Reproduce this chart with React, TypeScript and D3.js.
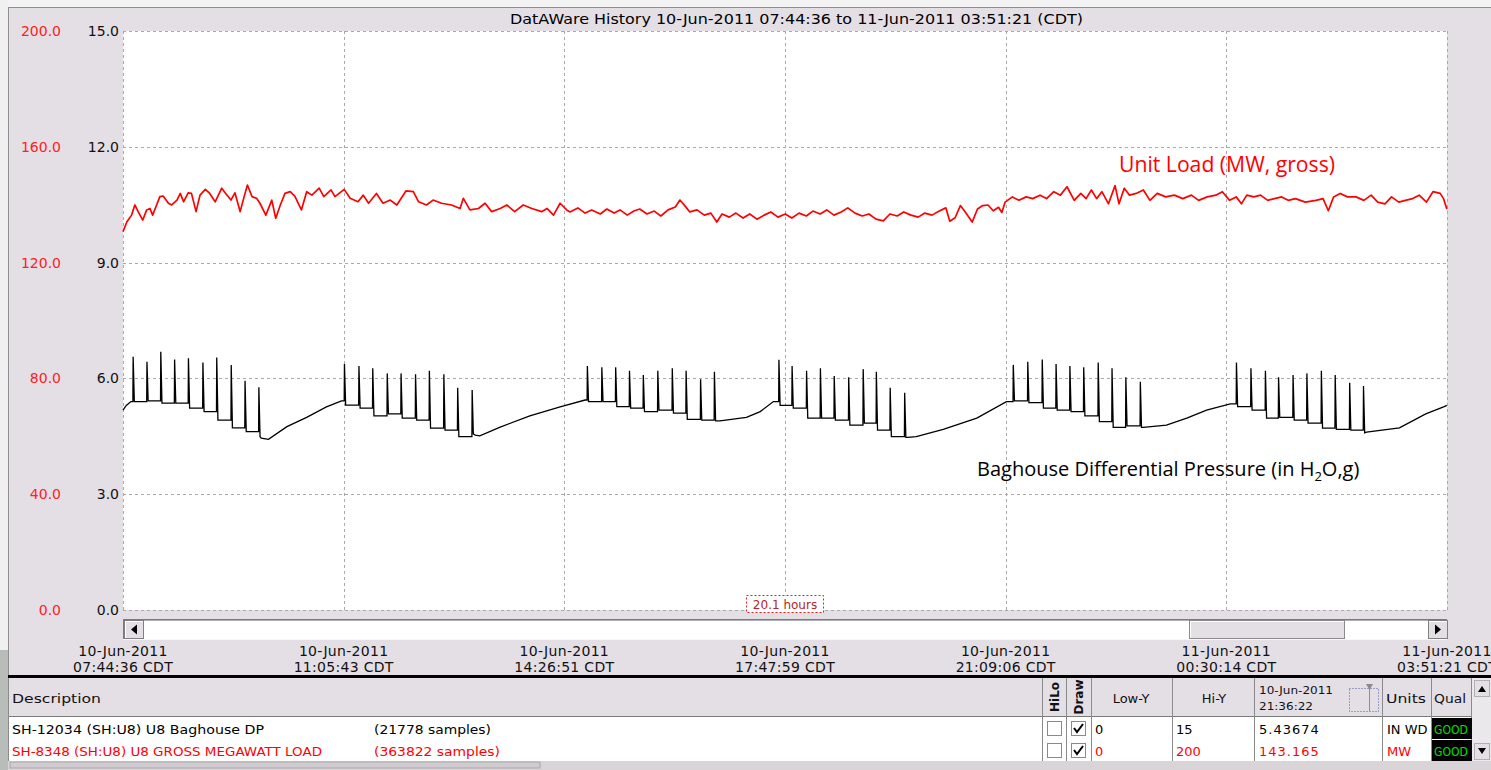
import React from 'react';
import * as d3 from 'd3';

const W = 1491;
const H = 770;

const TITLE = 'DatAWare History 10-Jun-2011 07:44:36 to 11-Jun-2011 03:51:21 (CDT)';
const START_LABEL = '10-Jun-2011 07:44:36';
const END_LABEL = '11-Jun-2011 03:51:21';
const xTickLabels = [
  '10-Jun-2011 07:44:36',
  '10-Jun-2011 11:05:43',
  '10-Jun-2011 14:26:51',
  '10-Jun-2011 17:47:59',
  '10-Jun-2011 21:09:06',
  '11-Jun-2011 00:30:14',
  '11-Jun-2011 03:51:21',
];
const dpTicks = [0, 3, 6, 9, 12, 15];
const mwTicks = [0, 40, 80, 120, 160, 200];

// Unit load (MW) — hours since start / MW
const mwHours = [
  0.0, 0.06, 0.13, 0.18, 0.23, 0.3, 0.36, 0.41, 0.45, 0.5, 0.56, 0.61, 0.69, 0.74, 0.82, 0.87, 0.92, 0.99, 1.04, 1.11,
  1.17, 1.25, 1.31, 1.4, 1.5, 1.56, 1.64, 1.7, 1.78, 1.84, 1.89, 1.96, 2.03, 2.08, 2.17, 2.26, 2.32, 2.39, 2.46, 2.54,
  2.61, 2.71, 2.79, 2.87, 2.98, 3.05, 3.16, 3.22, 3.36, 3.45, 3.57, 3.65, 3.73, 3.85, 3.95, 4.06, 4.16, 4.3, 4.41, 4.49,
  4.61, 4.71, 4.84, 4.99, 5.12, 5.17, 5.27, 5.4, 5.5, 5.6, 5.73, 5.83, 5.95, 6.08, 6.21, 6.36, 6.44, 6.54, 6.64, 6.74,
  6.79, 6.91, 7.02, 7.12, 7.25, 7.35, 7.46, 7.55, 7.66, 7.76, 7.85, 7.96, 8.07, 8.17, 8.28, 8.39, 8.46, 8.54, 8.61, 8.72,
  8.83, 8.93, 9.02, 9.1, 9.21, 9.31, 9.42, 9.52, 9.63, 9.74, 9.84, 9.95, 10.06, 10.16, 10.27, 10.38, 10.48, 10.59, 10.69, 10.8,
  10.91, 11.01, 11.12, 11.23, 11.33, 11.44, 11.55, 11.65, 11.76, 11.86, 11.97, 12.08, 12.18, 12.29, 12.4, 12.5,
  12.56, 12.64, 12.72, 12.8, 12.9, 12.98, 13.06, 13.14, 13.22, 13.3, 13.35, 13.4, 13.51, 13.61, 13.72, 13.82, 13.93, 14.03, 14.14, 14.24,
  14.34, 14.45, 14.55, 14.63, 14.71, 14.79, 14.87, 14.97, 15.07, 15.13, 15.21, 15.29, 15.39, 15.5, 15.6, 15.71, 15.84, 15.97, 16.1, 16.23,
  16.34, 16.47, 16.6, 16.7, 16.81, 16.91, 16.99, 17.07, 17.18, 17.28, 17.39, 17.49, 17.6, 17.7, 17.81, 17.96, 18.12, 18.23, 18.31, 18.39,
  18.49, 18.6, 18.73, 18.85, 18.96, 19.06, 19.17, 19.27, 19.38, 19.48, 19.59, 19.69, 19.8, 19.9, 20.01, 20.06, 20.11,
];
const mwValues = [
  130.7, 134.1, 136.4, 139.9, 137.6, 134.7, 138.2, 138.7, 136.4, 139.3, 142.8, 143.0, 140.5, 139.9, 141.6, 143.9, 141.0, 144.1, 143.9, 137.6,
  143.3, 145.3, 144.1, 141.0, 145.7, 143.9, 141.6, 144.1, 137.6, 142.8, 146.8, 142.8, 142.2, 140.5, 136.4, 141.6, 135.3, 139.9, 143.9, 144.5,
  143.0, 138.2, 144.5, 143.3, 145.7, 142.8, 145.1, 142.8, 145.3, 142.2, 141.0, 143.3, 140.5, 143.9, 140.5, 141.6, 139.9, 144.8, 144.5, 141.0,
  139.9, 141.6, 140.5, 139.9, 138.7, 142.2, 138.2, 138.7, 140.5, 137.6, 138.7, 139.9, 137.6, 139.9, 138.7, 137.6, 138.7, 136.4, 140.5, 138.2,
  137.5, 138.9, 137.1, 138.2, 136.8, 138.5, 137.1, 138.2, 136.4, 137.8, 138.5, 136.8, 137.8, 136.1, 138.2, 139.2, 141.6, 139.5, 137.5, 138.2,
  136.4, 137.1, 134.0, 136.8, 135.7, 137.1, 135.4, 136.8, 135.0, 136.4, 137.5, 135.7, 136.8, 135.4, 137.1, 136.1, 137.8, 136.8, 138.2, 136.4,
  137.5, 138.9, 137.1, 136.1, 136.8, 135.0, 134.4, 136.8, 136.1, 137.5, 136.4, 135.7, 137.1, 136.4, 137.8, 138.9,
  134.3, 135.5, 139.7, 137.3, 134.0, 138.5, 139.7, 139.9, 137.9, 139.1, 137.3, 140.9, 142.7, 141.5, 142.7, 142.1, 143.3, 142.1, 144.5, 143.3,
  146.2, 141.5, 143.9, 142.1, 145.1, 142.1, 144.5, 140.3, 146.6, 140.3, 145.7, 143.3, 143.9, 145.1, 141.5, 143.9, 142.7, 143.3, 142.1, 143.3,
  141.5, 142.7, 143.3, 144.5, 141.5, 142.7, 140.3, 143.3, 142.7, 143.3, 141.5, 142.1, 142.7, 141.5, 142.1, 140.9, 141.5, 142.1, 137.9, 142.7,
  143.9, 142.7, 142.7, 141.5, 143.3, 140.9, 140.3, 142.7, 140.9, 141.5, 142.1, 143.3, 140.9, 144.5, 143.9, 142.1, 138.5,
];

// Baghouse DP (in H2O) — slow build-up ramps (hours / value)
const rampHours = [
  0.0, 0.05, 0.12,
  2.1, 2.21, 2.49, 2.79, 3.09, 3.32,
  5.35, 5.42, 5.73, 6.18, 6.64, 7.02,
  9.07, 9.47, 9.68, 9.88,
  11.92, 12.05, 12.46, 12.97, 13.42,
  15.5, 15.85, 16.16, 16.46, 16.82,
  18.89, 19.39, 19.79, 20.07, 20.11,
];
const rampValues = [
  5.18, 5.3, 5.4,
  4.45, 4.42, 4.75, 4.99, 5.26, 5.42,
  4.53, 4.51, 4.74, 5.03, 5.26, 5.44,
  4.9, 4.99, 5.14, 5.4,
  4.47, 4.49, 4.68, 4.97, 5.4,
  4.73, 4.79, 4.97, 5.18, 5.34,
  4.61, 4.72, 5.08, 5.27, 5.3,
];
// Cleaning pulses: time, peak value, floor after pulse
const pulseHours = [
  0.15, 0.36, 0.57, 0.78, 0.99, 1.21, 1.42, 1.64, 1.85, 2.06,
  3.36, 3.58, 3.79, 4.01, 4.22, 4.44, 4.65, 4.87, 5.08, 5.3,
  7.05, 7.27, 7.48, 7.69, 7.9, 8.12, 8.34, 8.55, 8.77, 8.98,
  9.96, 10.16, 10.38, 10.59, 10.8, 11.02, 11.24, 11.44, 11.65, 11.87,
  13.52, 13.74, 13.96, 14.17, 14.38, 14.59, 14.81, 15.02, 15.23, 15.45,
  16.91, 17.13, 17.35, 17.55, 17.77, 17.98, 18.2, 18.41, 18.63, 18.84,
];
const pulsePeaks = [
  6.56, 6.43, 6.69, 6.49, 6.52, 6.41, 6.54, 6.35, 5.94, 5.77,
  6.37, 6.32, 6.26, 6.13, 6.13, 6.11, 6.2, 6.11, 5.76, 5.7,
  6.32, 6.29, 6.29, 6.2, 6.09, 6.2, 6.26, 6.2, 5.98, 6.17,
  6.48, 6.32, 6.2, 6.26, 6.06, 6.03, 6.24, 6.17, 5.76, 5.63,
  6.35, 6.43, 6.49, 6.37, 6.32, 6.29, 6.41, 6.26, 6.03, 5.91,
  6.41, 6.26, 6.2, 6.03, 6.09, 6.13, 6.2, 6.09, 5.89, 5.8,
];
const pulseFloors = [
  5.4, 5.42, 5.36, 5.36, 5.23, 5.14, 4.92, 4.72, 4.62, 4.49,
  5.31, 5.23, 5.03, 5.08, 4.97, 4.92, 4.71, 4.66, 4.49, 4.56,
  5.4, 5.4, 5.27, 5.23, 5.14, 5.18, 5.1, 4.94, 4.92, 4.9,
  5.3, 5.23, 4.97, 4.97, 4.92, 4.79, 4.84, 4.66, 4.49, 4.47,
  5.42, 5.37, 5.23, 5.18, 5.14, 5.03, 4.88, 4.73, 4.77, 4.73,
  5.27, 5.18, 4.97, 4.99, 4.92, 4.84, 4.71, 4.68, 4.66, 4.59,
];

// Table
const tagNames = ['SH-12034 (SH:U8) U8 Baghouse DP', 'SH-8348 (SH:U8) U8 GROSS MEGAWATT LOAD'];
const sampleCounts = ['(21778 samples)', '(363822 samples)'];
const lowYs = ['0', '0'];
const hiYs = ['15', '200'];
const cursorValues = ['5.43674', '143.165'];
const unitsList = ['IN WD', 'MW'];
const qualList = ['GOOD', 'GOOD'];
const rowColors = ['#000000', '#ff0000'];
const CURSOR_DATE = '10-Jun-2011';
const CURSOR_TIME = '21:36:22';
const SPAN_LABEL = '20.1 hours';

const BG = '#e4dfe5';
const FONT = "'DejaVu Sans', sans-serif";

export default function App() {
  const parse = d3.timeParse('%d-%b-%Y %H:%M:%S');
  const start = parse(START_LABEL) as Date;
  const end = parse(END_LABEL) as Date;
  const PL = 123, PR = 1447, PT = 31, PB = 610;
  const x = d3.scaleTime().domain([start, end]).range([PL, PR]);
  const yDP = d3.scaleLinear().domain([0, 15]).range([PB, PT]);
  const yMW = d3.scaleLinear().domain([0, 200]).range([PB, PT]);
  const hToDate = (h: number) => new Date(+start + h * 3600e3);

  const mwData = mwHours.map((h, i) => [h, mwValues[i]] as [number, number]);
  const mwLine = d3
    .line<[number, number]>()
    .x((d) => x(hToDate(d[0])))
    .y((d) => yMW(d[1]));

  // build DP path from ramps + pulses
  type Ev = { t: number; kind: 'r' | 'p'; i: number };
  const evs: Ev[] = [
    ...rampHours.map((t, i) => ({ t, kind: 'r' as const, i })),
    ...pulseHours.map((t, i) => ({ t, kind: 'p' as const, i })),
  ].sort((a, b) => a.t - b.t);
  const dpPts: [number, number][] = [];
  let last = rampValues[0];
  const PW = 0.022;
  for (const e of evs) {
    if (e.kind === 'r') {
      dpPts.push([e.t, rampValues[e.i]]);
      last = rampValues[e.i];
    } else {
      dpPts.push([e.t, last]);
      dpPts.push([e.t + 0.004, pulsePeaks[e.i]]);
      dpPts.push([e.t + PW, pulseFloors[e.i]]);
      last = pulseFloors[e.i];
    }
  }
  const dpLine = d3
    .line<[number, number]>()
    .x((d) => x(hToDate(d[0])))
    .y((d) => yDP(d[1]));

  const xTicks = xTickLabels.map((s) => parse(s) as Date);
  const fmtDate = d3.timeFormat('%d-%b-%Y');
  const fmtTime = d3.timeFormat('%H:%M:%S');
  const fmt1 = d3.format('.1f');
  const crisp = (v: number) => Math.round(v) + 0.5;

  // table geometry
  const colX = [1042.5, 1066.5, 1091.5, 1172.5, 1254.5, 1382.5, 1431.5, 1471.5];
  const rowTop = [717, 739];
  const rowH = 22;

  return (
    <svg
      width={W}
      height={H}
      style={{ position: 'absolute', left: 0, top: 0, display: 'block' }}
      fontFamily={FONT}
    >
      <rect x={0} y={0} width={W} height={H} fill={BG} />
      {/* window chrome */}
      <rect x={0} y={0} width={W} height={7} fill="#f3f3f3" />
      <rect x={0} y={0} width={8} height={H} fill="#f0f0f0" />
      <rect x={0} y={650} width={8} height={120} fill="#b9bdb9" />
      <line x1={8.5} y1={7} x2={8.5} y2={676} stroke="#8e8e8e" />
      <line x1={8} y1={7.5} x2={W} y2={7.5} stroke="#8e8e8e" />

      {/* title */}
      <text x={510} y={24} fontSize={14} fill="#000" textLength={573} lengthAdjust="spacingAndGlyphs">
        {TITLE}
      </text>

      {/* plot area */}
      <rect x={PL} y={PT} width={PR - PL} height={PB - PT} fill="#ffffff" />
      {dpTicks.map((t) => (
        <line
          key={'h' + t}
          x1={PL}
          x2={PR}
          y1={crisp(yDP(t))}
          y2={crisp(yDP(t))}
          stroke="#a9a9a9"
          strokeDasharray="3,3"
        />
      ))}
      {xTicks.map((d, i) => (
        <line
          key={'v' + i}
          x1={crisp(x(d))}
          x2={crisp(x(d))}
          y1={PT}
          y2={PB}
          stroke="#a9a9a9"
          strokeDasharray="3,3"
        />
      ))}

      {/* y labels */}
      {mwTicks.map((t) => (
        <text key={'m' + t} x={61} y={yMW(t) + 5} fontSize={14} fill="#ff2020" textAnchor="end">
          {fmt1(t)}
        </text>
      ))}
      {dpTicks.map((t) => (
        <text key={'d' + t} x={119} y={yDP(t) + 5} fontSize={14} fill="#111" textAnchor="end">
          {fmt1(t)}
        </text>
      ))}

      {/* series */}
      <path d={mwLine(mwData) || ''} fill="none" stroke="#ff0000" strokeWidth={1.7} strokeLinejoin="round" />
      <path d={dpLine(dpPts) || ''} fill="none" stroke="#000" strokeWidth={1.3} />

      {/* annotations */}
      <text x={1119} y={172} fontSize={21} fill="#ff0000" fontFamily="'Open Sans', sans-serif" textLength={216} lengthAdjust="spacingAndGlyphs">
        Unit Load (MW, gross)
      </text>
      <text x={977} y={476} fontSize={20} fill="#000" fontFamily="'Open Sans', sans-serif">
        Baghouse Differential Pressure (in H
        <tspan fontSize={13} dy={5}>2</tspan>
        <tspan dy={-5}>O,g)</tspan>
      </text>

      {/* span box */}
      <rect x={746.5} y={595.5} width={77} height={17} fill="#fff" stroke="#e02020" strokeDasharray="2,2" />
      <text x={785} y={609} fontSize={12} fill="#b02828" textAnchor="middle">
        {SPAN_LABEL}
      </text>

      {/* scrollbar */}
      <rect x={PL} y={619} width={PR - PL} height={20} fill="#ffffff" />
      <line x1={PL} x2={PR} y1={619.5} y2={619.5} stroke="#7a7a7a" />
      <line x1={PL} x2={PR} y1={620.5} y2={620.5} stroke="#b0b0b0" />
      <line x1={PL + 0.5} x2={PL + 0.5} y1={619} y2={639} stroke="#7a7a7a" />
      <line x1={PL} x2={PR} y1={639.5} y2={639.5} stroke="#f8f8f8" />
      <rect x={124.5} y={620.5} width={19} height={18} fill={BG} stroke="#808080" />
      <line x1={125} x2={143} y1={621.5} y2={621.5} stroke="#fff" />
      <line x1={125.5} x2={125.5} y1={621} y2={638} stroke="#fff" />
      <path d="M131,629.5 L137,624.5 L137,634.5 Z" fill="#000" />
      <rect x={1428.5} y={620.5} width={19} height={18} fill={BG} stroke="#808080" />
      <line x1={1429} x2={1447} y1={621.5} y2={621.5} stroke="#fff" />
      <path d="M1441,629.5 L1435,624.5 L1435,634.5 Z" fill="#000" />
      <rect x={1189.5} y={620.5} width={155} height={18} fill={BG} stroke="#8a8a8a" />
      <line x1={1190} x2={1344} y1={621.5} y2={621.5} stroke="#fff" />
      <line x1={1190.5} x2={1190.5} y1={621} y2={638} stroke="#fff" />

      {/* x labels */}
      {xTicks.map((d, i) => (
        <g key={'xl' + i}>
          <text x={x(d)} y={656} fontSize={14} textAnchor="middle" fill="#111" letterSpacing={0.3}>
            {fmtDate(d)}
          </text>
          <text x={x(d)} y={672} fontSize={14} textAnchor="middle" fill="#111" letterSpacing={0.3}>
            {fmtTime(d) + ' CDT'}
          </text>
        </g>
      ))}

      {/* table */}
      <rect x={8} y={675} width={W - 8} height={3} fill="#000" />
      <rect x={8} y={678} width={W - 8} height={39} fill={BG} />
      <line x1={8} x2={1472} y1={716.5} y2={716.5} stroke="#7a7a7a" />
      <text x={12} y={703} fontSize={13} fill="#111" textLength={89} lengthAdjust="spacingAndGlyphs">
        Description
      </text>
      {rowTop.map((t, i) => (
        <g key={'row' + i}>
          <rect x={8} y={t} width={1464} height={rowH} fill="#fff" />
          <line x1={8} x2={1472} y1={t + rowH + 0.5} y2={t + rowH + 0.5} stroke="#c8c8c8" />
        </g>
      ))}
      {colX.map((c, i) => (
        <line key={'c' + i} x1={c} x2={c} y1={678} y2={761} stroke="#8a8a8a" />
      ))}
      <line x1={8.5} x2={8.5} y1={678} y2={761} stroke="#8a8a8a" />
      <rect x={8} y={761} width={W - 8} height={9} fill="#d8d4d8" />
      <rect x={10} y={762} width={530} height={6} fill="#cfcbd0" stroke="#a8a8a8" />

      {/* header labels */}
      <text transform="translate(1059,697) rotate(-90)" fontSize={12} fontWeight="bold" textAnchor="middle" fill="#111">
        HiLo
      </text>
      <text transform="translate(1083,697) rotate(-90)" fontSize={12} fontWeight="bold" textAnchor="middle" fill="#111">
        Draw
      </text>
      <text x={1131} y={703} fontSize={13} textAnchor="middle" fill="#111">Low-Y</text>
      <text x={1214} y={703} fontSize={13} textAnchor="middle" fill="#111">Hi-Y</text>
      <text x={1259} y={694} fontSize={11} fill="#111" textLength={74} lengthAdjust="spacingAndGlyphs">{CURSOR_DATE}</text>
      <text x={1259} y={710} fontSize={11} fill="#111" textLength={54} lengthAdjust="spacingAndGlyphs">{CURSOR_TIME}</text>
      <rect x={1349.5} y={688.5} width={29} height={23} fill="none" stroke="#4b5aa8" strokeDasharray="1,2" />
      <line x1={1369.5} x2={1369.5} y1={689} y2={711} stroke="#20d060" />
      <path d="M1366,684 L1373,684 L1369.5,690 Z" fill="#8a8a8a" />
      <text x={1386} y={703} fontSize={13} fill="#111" textLength={40} lengthAdjust="spacingAndGlyphs">Units</text>
      <text x={1434} y={703} fontSize={13} fill="#111" textLength={32} lengthAdjust="spacingAndGlyphs">Qual</text>

      {/* right scroll column */}
      <rect x={1472} y={678} width={19} height={83} fill="#ebe8ec" />
      <rect x={1474.5} y={680.5} width={15} height={16} fill={BG} stroke="#b0b0b0" />
      <path d="M1478,692 L1486,692 L1482,686 Z" fill="#000" />
      <rect x={1474.5} y={743.5} width={15} height={16} fill={BG} stroke="#b0b0b0" />
      <path d="M1478,748 L1486,748 L1482,754 Z" fill="#000" />

      {/* rows */}
      {rowTop.map((t, i) => {
        const c = rowColors[i];
        const base = t + 17;
        return (
          <g key={'rt' + i}>
            <text x={12} y={base} fontSize={13} fill={c} textLength={i === 0 ? 252 : 310} lengthAdjust="spacingAndGlyphs">
              {tagNames[i]}
            </text>
            <text x={374} y={base} fontSize={13} fill={c} textLength={i === 0 ? 117 : 126} lengthAdjust="spacingAndGlyphs">
              {sampleCounts[i]}
            </text>
            <rect x={1047.5} y={t + 4.5} width={14} height={14} fill="#fff" stroke="#8a8a8a" />
            <rect x={1071.5} y={t + 4.5} width={14} height={14} fill="#fff" stroke="#8a8a8a" />
            <path
              d={`M${1074},${t + 11} L${1077},${t + 15} L${1083},${t + 7}`}
              fill="none"
              stroke="#000"
              strokeWidth={2}
            />
            <text x={1095} y={base} fontSize={13} fill={c}>{lowYs[i]}</text>
            <text x={1176} y={base} fontSize={13} fill={c}>{hiYs[i]}</text>
            <text x={1259} y={base} fontSize={13} fill={c} letterSpacing={1}>{cursorValues[i]}</text>
            <text x={1387} y={base} fontSize={13} fill={c}>{unitsList[i]}</text>
            <rect x={1432} y={t + 1} width={40} height={rowH - 1} fill="#000" />
            <text x={1434} y={base} fontSize={13} fill="#00e000" textLength={34} lengthAdjust="spacingAndGlyphs">
              {qualList[i]}
            </text>
          </g>
        );
      })}
    </svg>
  );
}
